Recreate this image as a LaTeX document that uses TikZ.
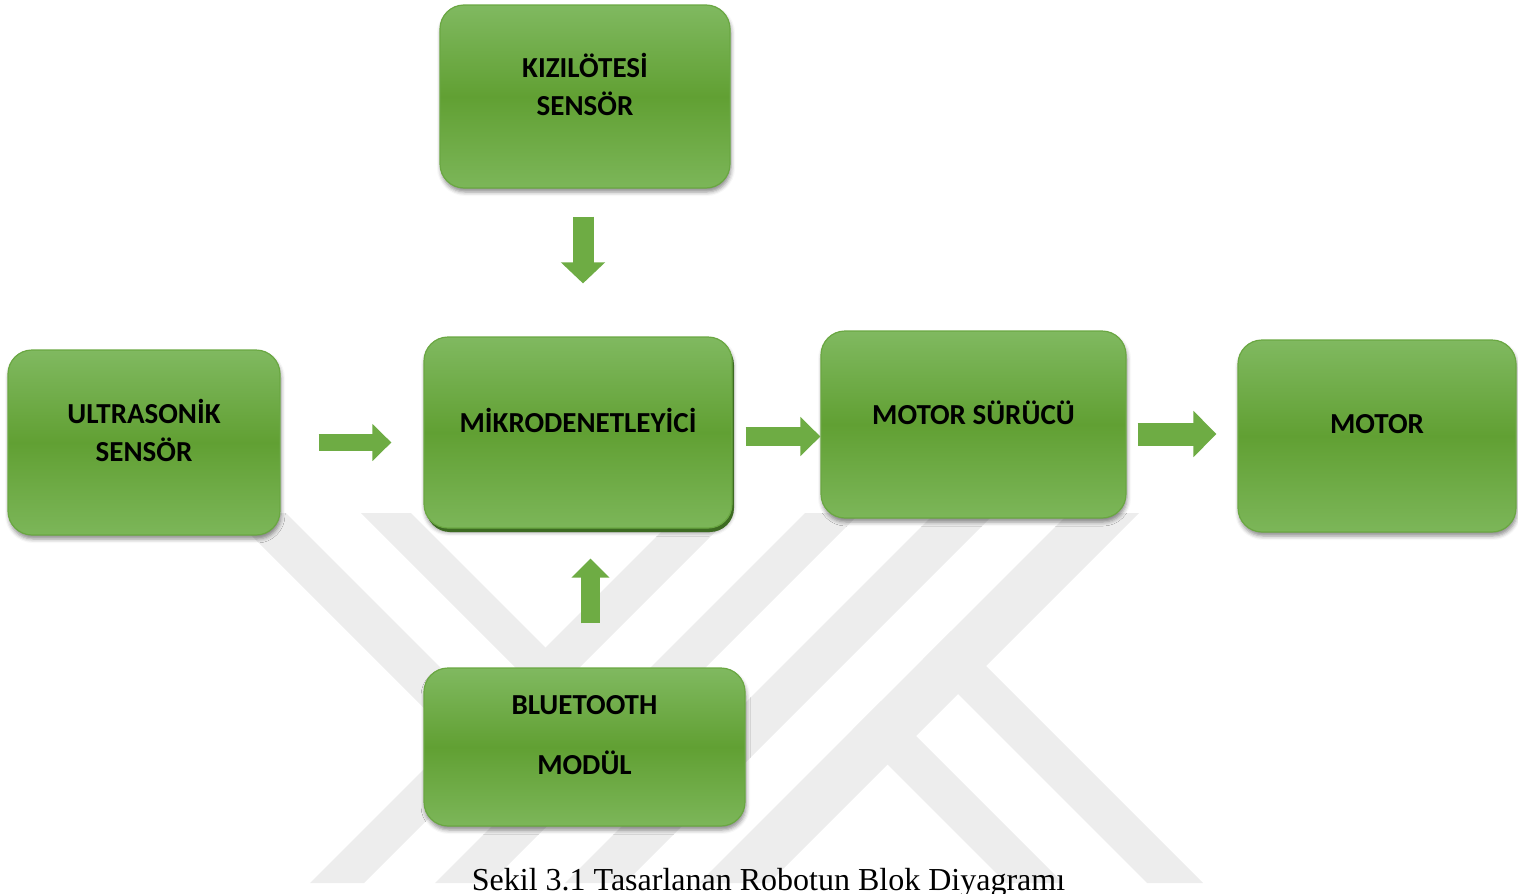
\documentclass[tikz,border=0pt]{standalone}
\usepackage{fontspec}
\setmainfont{Liberation Serif}
\newfontfamily\boxfont{Carlito}
\usetikzlibrary{arrows.meta,shadows,shadows.blur}

\definecolor{boxtop}{RGB}{128,185,96}
\definecolor{boxmid}{RGB}{97,160,51}
\definecolor{boxbot}{RGB}{124,182,89}
\definecolor{boxline}{RGB}{106,167,66}
\definecolor{mikroshade}{RGB}{61,107,34}
\definecolor{arrowgreen}{RGB}{110,172,68}
\definecolor{wm}{RGB}{237,237,237}

\begin{document}
\begin{tikzpicture}[x=1pt, y=-1pt,
  blok/.style={rounded corners=24pt, draw=boxline, line width=1.2pt,
    top color=boxtop, bottom color=boxbot, middle color=boxmid,
    align=center, text depth=24pt,
    font=\boxfont\bfseries\fontsize{29}{38}\selectfont,
    blur shadow={shadow xshift=1pt, shadow yshift=-4pt, shadow blur radius=4pt, shadow opacity=45}},
  ok/.style={draw=arrowgreen, line width=19pt, -{Triangle[length=20pt, width=38pt]}}]
\useasboundingbox (0,0) rectangle (1518,894);

\begin{scope}
\clip (0,513) rectangle (1518,883);
\fill[wm] (361,513) -- (411,513) -- (572.5,674.5) -- (547.5,699.5) -- cycle;
\fill[wm] (229,513) -- (286,513) -- (573,800) -- (544.5,828.5) -- cycle;
\fill[wm] (680,513) -- (734,513) -- (364,883) -- (310,883) -- cycle;
\fill[wm] (805,513) -- (860,513) -- (490,883) -- (435,883) -- cycle;
\fill[wm] (935,513) -- (995,513) -- (625,883) -- (565,883) -- cycle;
\fill[wm] (1069,513) -- (1139,513) -- (769,883) -- (699,883) -- cycle;
\fill[wm] (923,659) -- (951,631) -- (1203,883) -- (1147,883) -- cycle;
\fill[wm] (852.5,729.5) -- (881,701) -- (1063,883) -- (1006,883) -- cycle;
\end{scope}

\node[blok, minimum width=290pt, minimum height=183pt] (kizil) at (585,96.5) {KIZILÖTESİ\\SENSÖR};
\node[blok, minimum width=272pt, minimum height=185pt] (ultra) at (144,442.5) {ULTRASONİK\\SENSÖR};
\node[blok, minimum width=308pt, minimum height=191pt,
  drop shadow={shadow xshift=2pt, shadow yshift=-4pt, fill=mikroshade, opacity=1}] (mikro) at (578,432.5) {MİKRODENETLEYİCİ};
\node[blok, minimum width=305pt, minimum height=187pt] (surucu) at (973.5,424.5) {MOTOR SÜRÜCÜ};
\node[blok, minimum width=278pt, minimum height=192pt] (motor) at (1377,436) {MOTOR};
\node[blok, minimum width=321pt, minimum height=158pt] (bt) at (584.5,747) {BLUETOOTH\\[22pt]MODÜL};

\draw[ok, line width=21pt, -{Triangle[length=21pt, width=43pt]}, shorten <=28pt, shorten >=53pt,
  transform canvas={xshift=-2pt}] (kizil.south) -- (kizil.south |- mikro.north);
\draw[ok, line width=17pt, -{Triangle[length=19pt, width=36pt]}, shorten <=38pt, shorten >=32pt] (ultra.east) -- (ultra.east -| mikro.west);
\draw[ok, shorten <=13pt, transform canvas={yshift=-4pt}] (mikro.east) -- (mikro.east -| surucu.west);
\draw[ok, line width=23pt, -{Triangle[length=23pt, width=45pt]}, shorten <=11pt, shorten >=21pt,
  transform canvas={yshift=2pt}] (motor.west -| surucu.east) -- (motor.west);
\draw[ok, -{Triangle[length=19pt, width=37pt]}, shorten <=44pt, shorten >=30pt,
  transform canvas={xshift=6pt}] (bt.north) -- (bt.north |- mikro.south);

\node[anchor=base, font=\fontsize{32}{38}\selectfont] (caption) at (768.5,890) {Sekil 3.1 Tasarlanan Robotun Blok Diyagramı};
\end{tikzpicture}
\end{document}
